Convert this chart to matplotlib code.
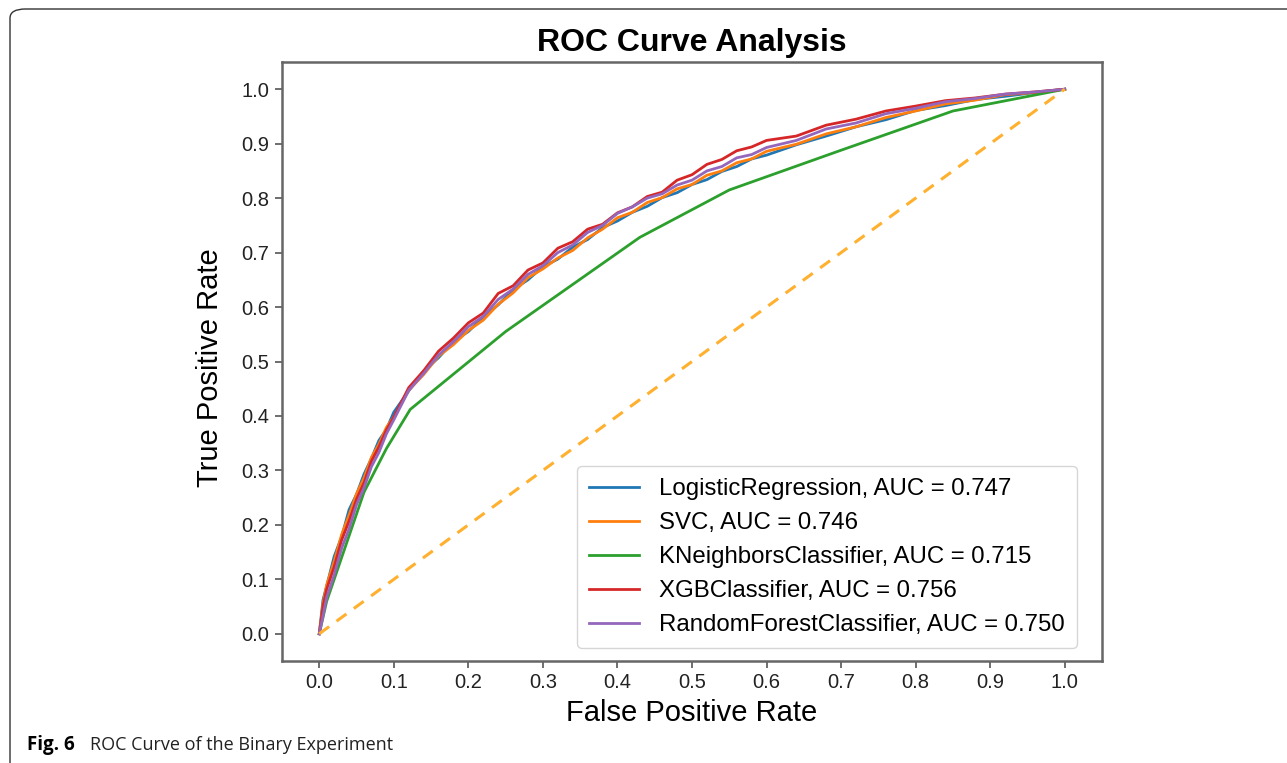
import matplotlib
matplotlib.use("Agg")
import matplotlib.pyplot as plt
from matplotlib.patches import FancyBboxPatch

plt.rcParams['font.family'] = ['Liberation Sans', 'DejaVu Sans']

fpr = [0, 0.005, 0.01, 0.02, 0.03, 0.04, 0.05, 0.06, 0.07, 0.08, 0.09, 0.10, 0.12, 0.14,
       0.16, 0.18, 0.20, 0.22, 0.24, 0.26, 0.28, 0.30, 0.32, 0.34, 0.36, 0.38, 0.40, 0.42,
       0.44, 0.46, 0.48, 0.50, 0.52, 0.54, 0.56, 0.58, 0.60, 0.64, 0.68, 0.72, 0.76, 0.80,
       0.84, 0.88, 0.92, 0.96, 1.0]
tpr_lr = [0, 0.062, 0.088, 0.142, 0.178, 0.228, 0.256, 0.293, 0.322, 0.355, 0.375, 0.407,
          0.446, 0.482, 0.507, 0.537, 0.555, 0.582, 0.604, 0.632, 0.65, 0.674, 0.688, 0.71,
          0.724, 0.746, 0.758, 0.774, 0.785, 0.801, 0.81, 0.825, 0.834, 0.849, 0.858, 0.872,
          0.879, 0.898, 0.914, 0.931, 0.944, 0.961, 0.97, 0.981, 0.987, 0.994, 1.0]
tpr_svc = [0, 0.055, 0.09, 0.133, 0.182, 0.218, 0.257, 0.286, 0.324, 0.348, 0.379, 0.398,
           0.447, 0.476, 0.51, 0.531, 0.557, 0.576, 0.605, 0.626, 0.654, 0.67, 0.69, 0.704,
           0.727, 0.743, 0.764, 0.774, 0.792, 0.801, 0.817, 0.825, 0.842, 0.85, 0.865, 0.872,
           0.886, 0.899, 0.918, 0.931, 0.948, 0.96, 0.973, 0.98, 0.99, 0.994, 1.0]
tpr_xgb = [0, 0.05, 0.082, 0.123, 0.172, 0.207, 0.247, 0.277, 0.317, 0.343, 0.374, 0.398,
           0.452, 0.483, 0.519, 0.543, 0.571, 0.589, 0.625, 0.639, 0.668, 0.681, 0.708, 0.72,
           0.743, 0.752, 0.773, 0.784, 0.803, 0.811, 0.833, 0.843, 0.862, 0.871, 0.887, 0.894,
           0.906, 0.914, 0.934, 0.945, 0.96, 0.969, 0.979, 0.984, 0.991, 0.995, 1.0]
tpr_rf = [0, 0.033, 0.067, 0.108, 0.157, 0.193, 0.237, 0.268, 0.307, 0.333, 0.367, 0.393,
          0.447, 0.478, 0.512, 0.536, 0.564, 0.583, 0.614, 0.633, 0.66, 0.676, 0.7, 0.714,
          0.737, 0.75, 0.772, 0.784, 0.8, 0.808, 0.824, 0.833, 0.85, 0.858, 0.874, 0.88,
          0.893, 0.906, 0.927, 0.938, 0.955, 0.965, 0.977, 0.983, 0.991, 0.995, 1.0]

fpr_knn = [0, 0.01, 0.03, 0.06, 0.09, 0.122, 0.25, 0.43, 0.55, 0.70, 0.85, 1.0]
tpr_knn = [0, 0.06, 0.14, 0.26, 0.34, 0.412, 0.555, 0.728, 0.815, 0.888, 0.96, 1.0]

labels = ["LogisticRegression, AUC = 0.747", "SVC, AUC = 0.746",
          "KNeighborsClassifier, AUC = 0.715", "XGBClassifier, AUC = 0.756",
          "RandomForestClassifier, AUC = 0.750"]
colors = ["#1f77b4", "#ff7f0e", "#2ca02c", "#d62728", "#9467bd"]

ticks = [0.0, 0.1, 0.2, 0.3, 0.4, 0.5, 0.6, 0.7, 0.8, 0.9, 1.0]

W, H = 1287, 763
fig = plt.figure(figsize=(W / 100, H / 100), dpi=100)
ax = fig.add_axes([282 / W, 1 - 661 / H, (1102 - 282) / W, (661 - 62) / H])

series = [(fpr, tpr_lr), (fpr, tpr_svc), (fpr_knn, tpr_knn), (fpr, tpr_xgb), (fpr, tpr_rf)]
for (xs, ys), lab, c in zip(series, labels, colors):
    ax.plot(xs, ys, color=c, lw=2, label=lab)
ax.plot([0, 1], [0, 1], color="#FFB02E", lw=2.2, ls=(0, (4, 3)))

ax.set_xlim(-0.05, 1.05)
ax.set_ylim(-0.05, 1.05)
ax.set_xticks(ticks)
ax.set_yticks(ticks)
ax.set_xticklabels([f"{t:.1f}" for t in ticks])
ax.set_yticklabels([f"{t:.1f}" for t in ticks])
ax.tick_params(labelsize=14.5, color="#555555", length=5, width=1.2, labelcolor="#222222",
               pad=4)
for s in ax.spines.values():
    s.set_color("#666666")
    s.set_linewidth(1.8)

ax.set_title("ROC Curve Analysis", fontsize=23, fontweight="bold", pad=8)
ax.set_xlabel("False Positive Rate", fontsize=21, labelpad=5)
ax.set_ylabel("True Positive Rate", fontsize=21)
ax.yaxis.set_label_coords(-0.071, 0.489)

leg = ax.legend(loc="lower right", fontsize=17.3, frameon=True, handlelength=2.08,
                labelspacing=0.5, borderpad=0.5, handletextpad=0.83, borderaxespad=0,
                bbox_to_anchor=(0.9695, 0.0217))
leg.get_frame().set_edgecolor("#cccccc")
leg.get_frame().set_linewidth(1.0)

# outer caption frame
frame = FancyBboxPatch((10 / W, 1 - 775 / H), (1400 - 10) / W, (775 - 9) / H,
                       boxstyle="round,pad=0,rounding_size=0.012",
                       transform=fig.transFigure, fill=False, edgecolor="#333333",
                       lw=1.0, clip_on=False)
fig.patches.append(frame)

fig.text(27 / W, 1 - 745 / H, "Fig. 6", fontsize=13.5, fontweight="bold",
         family=["Open Sans", "DejaVu Sans"], va="center", ha="left")
fig.text(90 / W, 1 - 745 / H, "ROC Curve of the Binary Experiment", fontsize=13,
         family=["Open Sans", "DejaVu Sans"], va="center", ha="left", color="#222222")

fig.savefig("out.png", dpi=100)
